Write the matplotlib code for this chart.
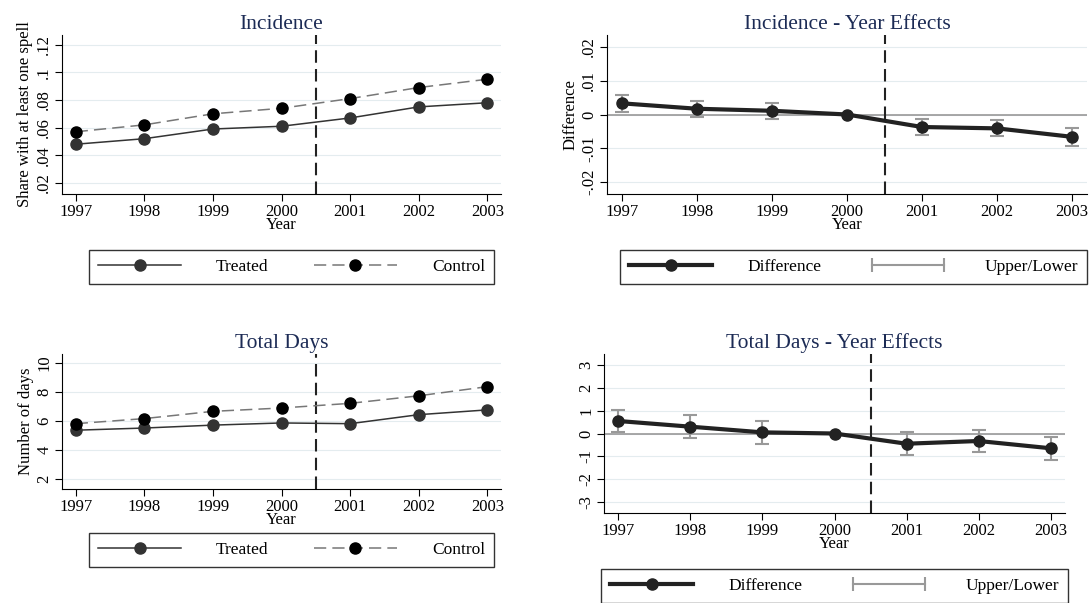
import matplotlib
matplotlib.use("Agg")
import matplotlib.pyplot as plt
from matplotlib.lines import Line2D
from matplotlib.legend_handler import HandlerLine2D

plt.rcParams["font.family"] = ["Liberation Serif", "DejaVu Serif"]

years = [1997, 1998, 1999, 2000, 2001, 2002, 2003]
inc_treated = [0.048, 0.052, 0.059, 0.061, 0.067, 0.075, 0.078]
inc_control = [0.057, 0.062, 0.070, 0.074, 0.081, 0.089, 0.095]
inc_diff = [0.0033, 0.0017, 0.0011, 0.0, -0.0037, -0.0041, -0.0066]
inc_half = [0.0025, 0.0023, 0.0023, 0.0, 0.0023, 0.0024, 0.0026]
days_treated = [5.35, 5.5, 5.7, 5.85, 5.8, 6.42, 6.75]
days_control = [5.8, 6.15, 6.65, 6.88, 7.2, 7.72, 8.35]
days_diff = [0.55, 0.3, 0.05, 0.0, -0.45, -0.33, -0.65]
days_half = [0.5, 0.5, 0.5, 0.0, 0.5, 0.5, 0.5]

W, H = 1089, 603
fig = plt.figure(figsize=(W / 100, H / 100), dpi=100)
TITLE = "#1c2b55"
GRID = "#e4ecef"


def px_axes(l, t, r, b):
    return fig.add_axes([l / W, 1 - b / H, (r - l) / W, (b - t) / H])


def style(ax, title, yticks, ylabels, ylim, ylabel=None):
    ax.set_xlim(1996.8, 2003.2)
    ax.set_ylim(*ylim)
    ax.set_xticks(years)
    ax.set_yticks(yticks)
    ax.set_yticklabels(ylabels, rotation=90, va="center")
    for s in ["top", "right"]:
        ax.spines[s].set_visible(False)
    ax.tick_params(labelsize=12, length=5, direction="out", pad=2)
    for y in yticks:
        ax.axhline(y, color=GRID, lw=0.8, zorder=0)
    ax.axvline(2000.5, color="#222222", ls=(0, (6, 3)), lw=1.5, zorder=1)
    ax.set_title(title, color=TITLE, fontsize=15.5, pad=4)
    ax.set_xlabel("Year", fontsize=12, labelpad=-2)
    if ylabel:
        ax.set_ylabel(ylabel, fontsize=12, labelpad=2)


def add_legend(ax, h, labels, l, t, r, hmap=None):
    leg = ax.legend(h, labels, loc="upper center",
                    bbox_to_anchor=((l + r) / 2 / W, 1 - t / H),
                    bbox_transform=fig.transFigure, ncol=2, fontsize=12.5,
                    frameon=True, fancybox=False, edgecolor="black",
                    handlelength=4.8, columnspacing=2.6, handletextpad=2.0,
                    borderpad=0.5, borderaxespad=0, numpoints=1,
                    handler_map=hmap)
    leg.get_frame().set_linewidth(1.0)


def level_panel(ax, tr, co, lt):
    ax.plot(years, tr, color="#333333", lw=1.1, marker="o", ms=8, zorder=3)
    ax.plot(years, co, color="#777777", lw=1.1, ls=(0, (8, 4)),
            marker="o", ms=8, mfc="black", mec="black", zorder=3)
    h = [Line2D([], [], color="#333333", lw=1.1, marker="o", ms=8),
         Line2D([], [], color="#777777", lw=1.1, ls=(0, (8, 4)), marker="o",
                ms=8, mfc="black", mec="black")]
    add_legend(ax, h, ["Treated", "Control"], 90, lt, 493)


def effect_panel(ax, d, hw, lt, l, r):
    ax.axhline(0, color="#999999", lw=1.2, zorder=1)
    ax.errorbar(years, d, yerr=hw, fmt="none", ecolor="#999999",
                elinewidth=1.5, capsize=5, capthick=1.5, zorder=2)
    ax.plot(years, d, color="#222222", lw=3, marker="o", ms=8, zorder=3)
    h = [Line2D([], [], color="#222222", lw=3, marker="o", ms=8),
         Line2D([], [], color="#999999", lw=1.5, marker="|", ms=10, mew=1.5)]
    add_legend(ax, h, ["Difference", "Upper/Lower"], l, lt, r,
               hmap={h[1]: HandlerLine2D(numpoints=2)})


ax1 = px_axes(62, 35, 501, 194)
level_panel(ax1, inc_treated, inc_control, 250)
style(ax1, "Incidence", [0.02, 0.04, 0.06, 0.08, 0.10, 0.12],
      [".02", ".04", ".06", ".08", ".1", ".12"], (0.012, 0.127),
      "Share with at least one spell")

ax2 = px_axes(607, 35, 1087, 194)
effect_panel(ax2, inc_diff, inc_half, 250, 632, 1075)
style(ax2, "Incidence - Year Effects", [-0.02, -0.01, 0, 0.01, 0.02],
      ["-.02", "-.01", "0", ".01", ".02"], (-0.0235, 0.0235), "Difference")

ax3 = px_axes(62, 354, 501, 489)
level_panel(ax3, days_treated, days_control, 533)
style(ax3, "Total Days", [2, 4, 6, 8, 10], ["2", "4", "6", "8", "10"],
      (1.3, 10.6), "Number of days")

ax4 = px_axes(604, 354, 1065, 513)
effect_panel(ax4, days_diff, days_half, 569, 612, 1057)
style(ax4, "Total Days - Year Effects", [-3, -2, -1, 0, 1, 2, 3],
      ["-3", "-2", "-1", "0", "1", "2", "3"], (-3.5, 3.5))

fig.savefig("out.png", dpi=100)
